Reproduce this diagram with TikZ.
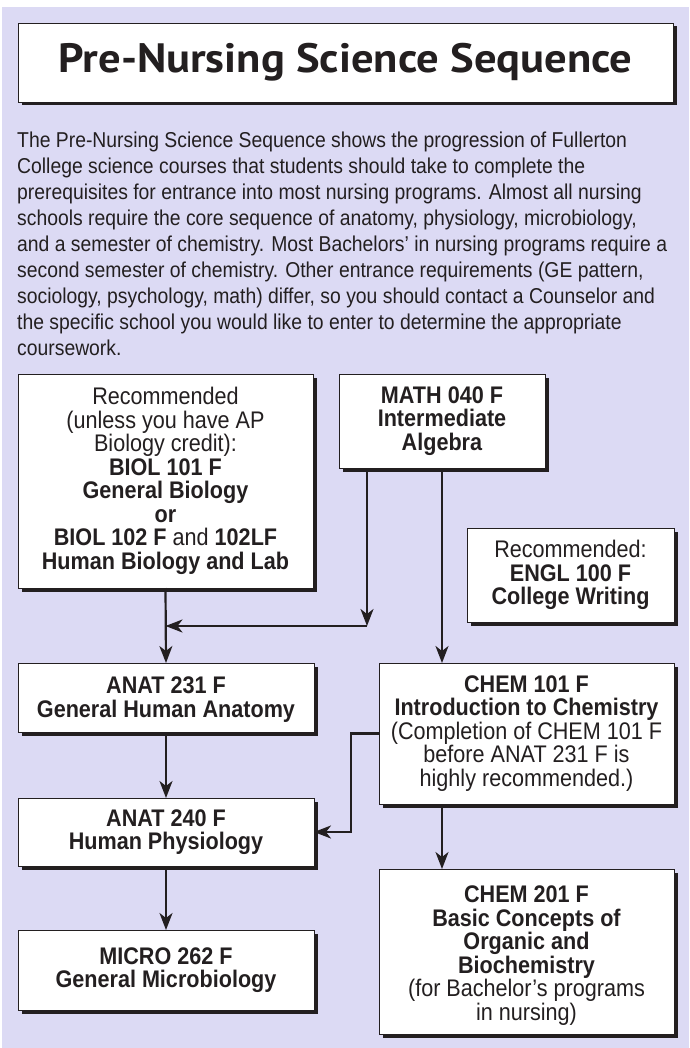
\documentclass[tikz,border=0pt]{standalone}
\usepackage{fontspec}
\usepackage{graphicx}
\setmainfont{Liberation Sans}[FakeStretch=0.9]
\newfontfamily\parafont{Liberation Sans}[FakeStretch=0.9]
\newfontfamily\boxfont{Liberation Sans}[FakeStretch=0.9]
\newfontfamily\titlefont{PT Sans}
\usetikzlibrary{arrows.meta,shadows}
\definecolor{lav}{RGB}{220,218,244}
\definecolor{ink}{RGB}{35,31,32}
\begin{document}
\begin{tikzpicture}[x=1pt,y=-1pt,
  box/.style={draw=ink, line width=0.9pt, fill=white, inner sep=0pt, outer sep=0pt,
    align=center, text=ink, font=\boxfont\fontsize{24}{23.5}\selectfont,
    drop shadow={shadow xshift=3.5pt, shadow yshift=-3.5pt, opacity=1, fill=ink}},
  arr/.style={draw=ink, line width=2.2pt, -{Stealth[length=17pt,width=13pt,inset=5pt]}}]
\useasboundingbox (0,0) rectangle (689,1048);
\fill[white] (0,0) rectangle (689,1048);
\fill[lav] (2,7) rectangle (689,1048);
% title
\node[box, minimum width=655pt, minimum height=79pt] (title) at (345.5,62.5)
  {\titlefont\bfseries\fontsize{41}{41}\selectfont\resizebox{574pt}{\height}{Pre-Nursing Science Sequence}};
% paragraph
\node[anchor=north west, inner sep=0pt, align=left, text=ink,
  font=\parafont\fontsize{21.5}{26}\selectfont] (para) at (17,131.5)
  {The Pre-Nursing Science Sequence shows the progression of Fullerton\\
   College science courses that students should take to complete the\\
   prerequisites for entrance into most nursing programs. Almost all nursing\\
   schools require the core sequence of anatomy, physiology, microbiology,\\
   and a semester of chemistry. Most Bachelors’ in nursing programs require a\\
   second semester of chemistry. Other entrance requirements (GE pattern,\\
   sociology, psychology, math) differ, so you should contact a Counselor and\\
   the specific school you would like to enter to determine the appropriate\\
   coursework.};
% boxes
\node[box, minimum width=295pt, minimum height=214pt] (rec) at (165.5,481)
  {Recommended\\(unless you have AP\\Biology credit):\\\textbf{BIOL 101 F}\\\textbf{General Biology}\\\textbf{or}\\\textbf{BIOL 102 F} and \textbf{102LF}\\\textbf{Human Biology and Lab}};
\node[box, minimum width=206pt, minimum height=94pt] (math) at (442,421)
  {\textbf{MATH 040 F}\\\textbf{Intermediate}\\\textbf{Algebra}};
\node[box, minimum width=207pt, minimum height=94pt] (engl) at (570.5,575)
  {Recommended:\\\textbf{ENGL 100 F}\\\textbf{College Writing}};
\node[box, minimum width=296pt, minimum height=69pt] (anat1) at (166,697.5)
  {\rule{0pt}{21pt}\textbf{ANAT 231 F}\\\textbf{General Human Anatomy}};
\node[box, minimum width=295pt, minimum height=141pt] (chem1) at (526.5,733.5)
  {\textbf{CHEM 101 F}\\\textbf{Introduction to Chemistry}\\(Completion of CHEM 101 F\\before ANAT 231 F is\\highly recommended.)};
\node[box, minimum width=296pt, minimum height=68pt] (anat2) at (166,832)
  {\textbf{ANAT 240 F}\\\textbf{Human Physiology}};
\node[box, minimum width=296pt, minimum height=80pt] (micro) at (166,970)
  {\textbf{MICRO 262 F}\\\textbf{General Microbiology}};
\node[box, minimum width=295pt, minimum height=165pt] (chem2) at (526.5,951.5)
  {\rule{0pt}{25pt}\textbf{CHEM 201 F}\\\textbf{Basic Concepts of}\\\textbf{Organic and}\\\textbf{Biochemistry}\\(for Bachelor’s programs\\in nursing)};
% connectors
\coordinate (j) at (367,626);
\draw[arr] (math.south -| j) -- (j);
\draw[arr] (j) -- (j -| rec.south);
\draw[arr] (rec.south) -- (anat1.north);
\draw[arr] (anat1.south) -- (anat2.north);
\draw[arr] (anat2.south) -- (micro.north);
\draw[arr] (math.south) -- (math.south |- chem1.north);
\draw[arr] (chem1.west) -- ++(-28,0) |- (anat2.east);
\draw[arr] (chem1.south -| math.south) -- (chem2.north -| math.south);
\end{tikzpicture}
\end{document}
